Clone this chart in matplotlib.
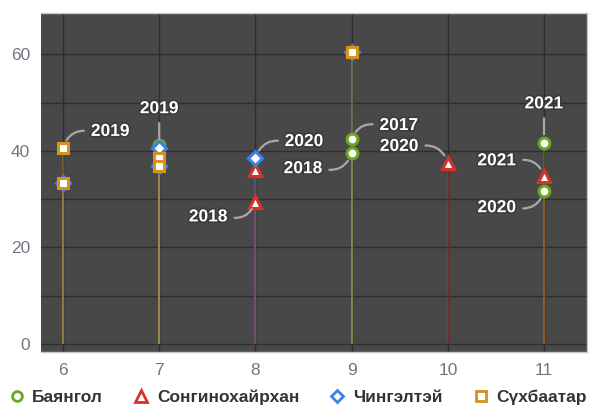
import matplotlib
matplotlib.use("Agg")
import matplotlib.pyplot as plt
import matplotlib.patheffects as pe
from matplotlib.lines import Line2D

plt.rcParams['font.family'] = ['Liberation Sans', 'DejaVu Sans']

# ---- data -------------------------------------------------------------
months = [6, 7, 8, 9, 10, 11]
y_ticks = [0, 20, 40, 60]

bayangol_x = [7, 9, 9, 11, 11]
bayangol_y = [41.2, 42.4, 39.5, 41.7, 31.7]
bayangol_lbl = ['', '2017', '2018', '2021', '2020']

songino_x = [8, 8, 10, 11]
songino_y = [36.0, 29.5, 37.5, 34.8]
songino_lbl = ['', '2018', '2020', '2021']

chingeltei_x = [6, 7, 7, 8, 9]
chingeltei_y = [33.4, 40.7, 36.9, 38.5, 60.5]
chingeltei_lbl = ['', '2019', '', '2020', '']

sukhbaatar_x = [6, 6, 7, 7, 9]
sukhbaatar_y = [40.6, 33.4, 38.5, 36.9, 60.5]
sukhbaatar_lbl = ['2019', '', '', '', '']

series = [
    ('Баянгол', bayangol_x, bayangol_y, bayangol_lbl, '#6ea51f', 'o', 7.8),
    ('Сонгинохайрхан', songino_x, songino_y, songino_lbl, '#d8312c', '^', 9.0),
    ('Чингэлтэй', chingeltei_x, chingeltei_y, chingeltei_lbl, '#3f7fe8', 'D', 7.0),
    ('Сүхбаатар', sukhbaatar_x, sukhbaatar_y, sukhbaatar_lbl, '#d4931b', 's', 7.6),
]

# label placement (offset in points) keyed by label position in series
label_offsets = {
    ('Баянгол', 1): (34, 10), ('Баянгол', 2): (-35, -11),
    ('Баянгол', 3): (0, 28), ('Баянгол', 4): (-34, -12),
    ('Сонгинохайрхан', 1): (-34, -11), ('Сонгинохайрхан', 2): (-35, 12),
    ('Сонгинохайрхан', 3): (-34, 11),
    ('Чингэлтэй', 1): (0, 28), ('Чингэлтэй', 3): (35, 12),
    ('Сүхбаатар', 0): (34, 12),
}

# ---- figure -----------------------------------------------------------
fig = plt.figure(figsize=(6.05, 4.16), dpi=100)
ax = fig.add_axes([0.0678, 0.1538, 0.9025, 0.815])
ax.set_facecolor('#484848')

ax.set_xlim(5.771, 11.447)
ax.set_ylim(-1.66, 68.6)

ax.set_xticks(months)
ax.set_yticks(range(0, 70, 10))
ax.set_yticklabels([str(v) if v in y_ticks else '' for v in range(0, 70, 10)])
ax.grid(True, color='#2e2e2e', linewidth=1)
ax.set_axisbelow(True)
ax.tick_params(length=0, labelsize=12.5, pad=8)
for lab in ax.get_xticklabels() + ax.get_yticklabels():
    lab.set_color('#707680')
for side, sp in ax.spines.items():
    sp.set_color('#c8c8c8')
    sp.set_linewidth(1)
ax.spines['left'].set_visible(False)

outline = [pe.withStroke(linewidth=2.2, foreground='#3a3a3a')]

# stems
for name, xs, ys, lbls, col, mk, ms in series:
    ax.vlines(xs, 0, ys, colors=col, linewidth=1.3, alpha=0.4, zorder=2)

# markers
for name, xs, ys, lbls, col, mk, ms in series:
    ax.plot(xs, ys, linestyle='none', marker=mk, markersize=ms,
            markerfacecolor='white', markeredgecolor=col,
            markeredgewidth=2.2, zorder=4)

# data labels with curved connectors
for name, xs, ys, lbls, col, mk, ms in series:
    for i, (xv, yv, t) in enumerate(zip(xs, ys, lbls)):
        if not t:
            continue
        dx, dy = label_offsets[(name, i)]
        if dx == 0:
            rel, rad = (0.5, 0.0), 0.0
        else:
            rel = (0.0, 0.5) if dx > 0 else (1.0, 0.5)
            rad = 0.45 if dx * dy > 0 else -0.45
        ax.annotate(t, xy=(xv, yv), xytext=(dx, dy), textcoords='offset points',
                    ha='center', va='center', fontsize=12.5, fontweight='bold',
                    color='white', path_effects=outline, zorder=6,
                    arrowprops=dict(arrowstyle='-', color='#a8a8a8', lw=1.6,
                                    relpos=rel, shrinkA=3, shrinkB=6,
                                    connectionstyle=f'arc3,rad={rad}'))

# legend
handles = [Line2D([], [], linestyle='none', marker=mk, markersize=ms * 0.9,
                  markerfacecolor='white', markeredgecolor=col,
                  markeredgewidth=2.0, label=name)
           for name, xs, ys, lbls, col, mk, ms in series]
leg = fig.legend(handles=handles, loc='lower center', bbox_to_anchor=(0.493, -0.012),
                 ncol=4, frameon=False, handlelength=0.8, handletextpad=0.5,
                 columnspacing=1.8, prop={'weight': 'bold', 'size': 12.5})
for t in leg.get_texts():
    t.set_color('#333333')

fig.savefig('out.png', dpi=100)
